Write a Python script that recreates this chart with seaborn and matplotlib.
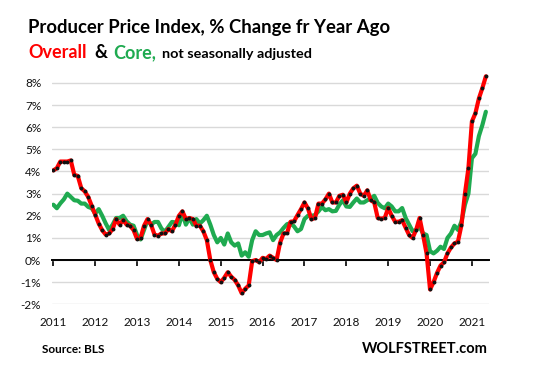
import numpy as np
import pandas as pd
import matplotlib
matplotlib.use("Agg")
import matplotlib.pyplot as plt
import seaborn as sns

# ---- data (monthly, % change from year ago) ----
overall = [4.05, 4.15, 4.45, 4.45, 4.45, 4.5, 3.85, 3.8, 3.25, 3.1, 2.85, 2.45,
           2.05, 1.65, 1.35, 1.15, 1.2, 1.4, 1.85, 1.6, 1.8, 1.6, 1.55, 1.35,
           0.95, 1.0, 1.55, 1.85, 1.6, 1.15, 1.1, 1.2, 1.2, 1.4, 1.3, 1.6,
           2.0, 2.2, 1.85, 1.9, 1.85, 1.55, 1.55, 1.3, 0.9, 0.0, -0.55, -0.85,
           -1.0, -0.8, -0.55, -0.75, -0.9, -1.15, -1.5, -1.3, -1.15, -0.05, 0.0, -0.1,
           0.1, 0.05, 0.2, 0.1, 0.0, 0.78, 1.2, 1.22, 1.73, 1.75, 2.03, 2.3,
           2.6, 2.33, 1.84, 1.9, 2.55, 2.55, 2.74, 3.0, 2.6, 2.6, 2.9, 2.95,
           2.6, 3.0, 3.24, 3.36, 3.0, 2.9, 3.15, 2.7, 2.6, 1.9, 1.87, 1.9,
           2.35, 2.0, 1.73, 1.73, 1.8, 1.46, 1.13, 1.0, 1.36, 1.9, 1.13, 0.3,
           -1.33, -1.0, -0.58, -0.25, -0.1, 0.3, 0.57, 0.75, 0.83, 1.57, 3.0, 4.15,
           6.26, 6.63, 7.3, 7.77, 8.3]
core = [2.5, 2.34, 2.56, 2.74, 3.0, 2.85, 2.7, 2.68, 2.55, 2.55, 2.4, 2.34,
        2.1, 2.3, 2.0, 1.66, 1.36, 1.6, 1.9, 1.9, 2.0, 1.75, 1.6, 1.55,
        1.13, 0.93, 1.36, 1.8, 1.6, 1.72, 1.72, 1.42, 1.28, 1.5, 1.72, 1.7,
        1.57, 2.1, 1.6, 1.9, 1.6, 1.85, 1.65, 1.8, 2.0, 1.6, 1.13, 0.8,
        1.0, 0.7, 1.2, 0.8, 0.65, 0.75, 0.2, 0.35, 0.15, 0.9, 1.3, 1.13,
        1.13, 1.2, 1.25, 0.9, 1.13, 1.25, 1.45, 1.62, 1.66, 1.52, 1.3, 1.4,
        1.85, 2.0, 2.0, 2.03, 2.2, 2.4, 2.25, 2.3, 2.2, 2.22, 2.5, 2.7,
        2.42, 2.4, 2.6, 2.78, 2.6, 2.6, 2.7, 2.78, 2.9, 2.58, 2.42, 2.34,
        2.55, 2.42, 2.2, 2.2, 2.35, 1.9, 1.6, 1.3, 1.36, 1.5, 1.2, 1.13,
        0.4, 0.3, 0.42, 0.6, 0.5, 1.0, 1.2, 1.55, 1.36, 1.73, 2.5, 3.0,
        4.6, 4.8, 5.6, 6.1, 6.7]
year_labels = ["2011", "2012", "2013", "2014", "2015", "2016",
               "2017", "2018", "2019", "2020", "2021"]
y_ticks = [-2, -1, 0, 1, 2, 3, 4, 5, 6, 7, 8]

month = np.arange(len(overall))
df = pd.DataFrame({"month": month, "overall": overall, "core": core})

RED = "#ff0000"
GREEN = "#1faa50"

sns.set_style("white")
plt.rcParams["font.family"] = ["Lato", "DejaVu Sans"]

W, H = 544, 369
fig = plt.figure(figsize=(W / 100, H / 100), dpi=100)
ax = fig.add_axes([52.3 / W, 1 - 304.3 / H, (489 - 52.3) / W, (304.3 - 73) / H])

sns.lineplot(data=df, x="month", y="core", ax=ax, color=GREEN, lw=3.0, zorder=3)
sns.lineplot(data=df, x="month", y="overall", ax=ax, color=RED, lw=3.0, zorder=4,
             marker="o", markersize=2.8, markerfacecolor="#111111",
             markeredgecolor="#111111", markeredgewidth=0)

ax.set_xlim(-0.3, 124.9)
ax.set_ylim(-2, 8.45)
ax.set_yticks(y_ticks)
ax.set_yticklabels([f"{v}%" for v in y_ticks])
ax.set_xticks(np.arange(len(year_labels)) * 12)
ax.set_xticklabels(year_labels)
ax.set_xlabel("")
ax.set_ylabel("")

ax.grid(axis="y", color="#d9d9d9", lw=1.0, zorder=0)
ax.grid(axis="x", visible=False)
for s in ["top", "right", "left"]:
    ax.spines[s].set_visible(False)
ax.spines["bottom"].set_position(("data", 0))
ax.spines["bottom"].set_color("black")
ax.spines["bottom"].set_linewidth(1.4)
ax.spines["bottom"].set_zorder(2)
ax.tick_params(axis="x", direction="out", length=4, width=1.2, color="black",
               pad=37, labelsize=8.5, labelcolor="#111111", bottom=True)
ax.tick_params(axis="y", length=0, pad=8, labelsize=8.5, labelcolor="#111111")

def ftxt(x, y, s, **kw):
    fig.text(x / W, 1 - y / H, s, va="baseline", **kw)

ftxt(28.3, 32.7, "Producer Price Index, % Change fr Year Ago",
     fontsize=13.3, fontweight="bold", color="black")
ftxt(28.3, 58.5, "Overall", fontsize=13, fontweight="bold", color=RED)
ftxt(94.5, 58.5, "&", fontsize=13, fontweight="bold", color="black")
ftxt(113.5, 58.5, "Core,", fontsize=13, fontweight="bold", color=GREEN)
ftxt(161.7, 58.5, "not seasonally adjusted", fontsize=10.4, fontweight="bold",
     color="black")
ftxt(41.5, 353, "Source: BLS", fontsize=8.5, fontweight="bold", color="black")
ftxt(487.5, 353, "WOLFSTREET.com", fontsize=10.5, fontweight="bold",
     color="black", ha="right")

fig.savefig("out.png", dpi=100, facecolor="white")
